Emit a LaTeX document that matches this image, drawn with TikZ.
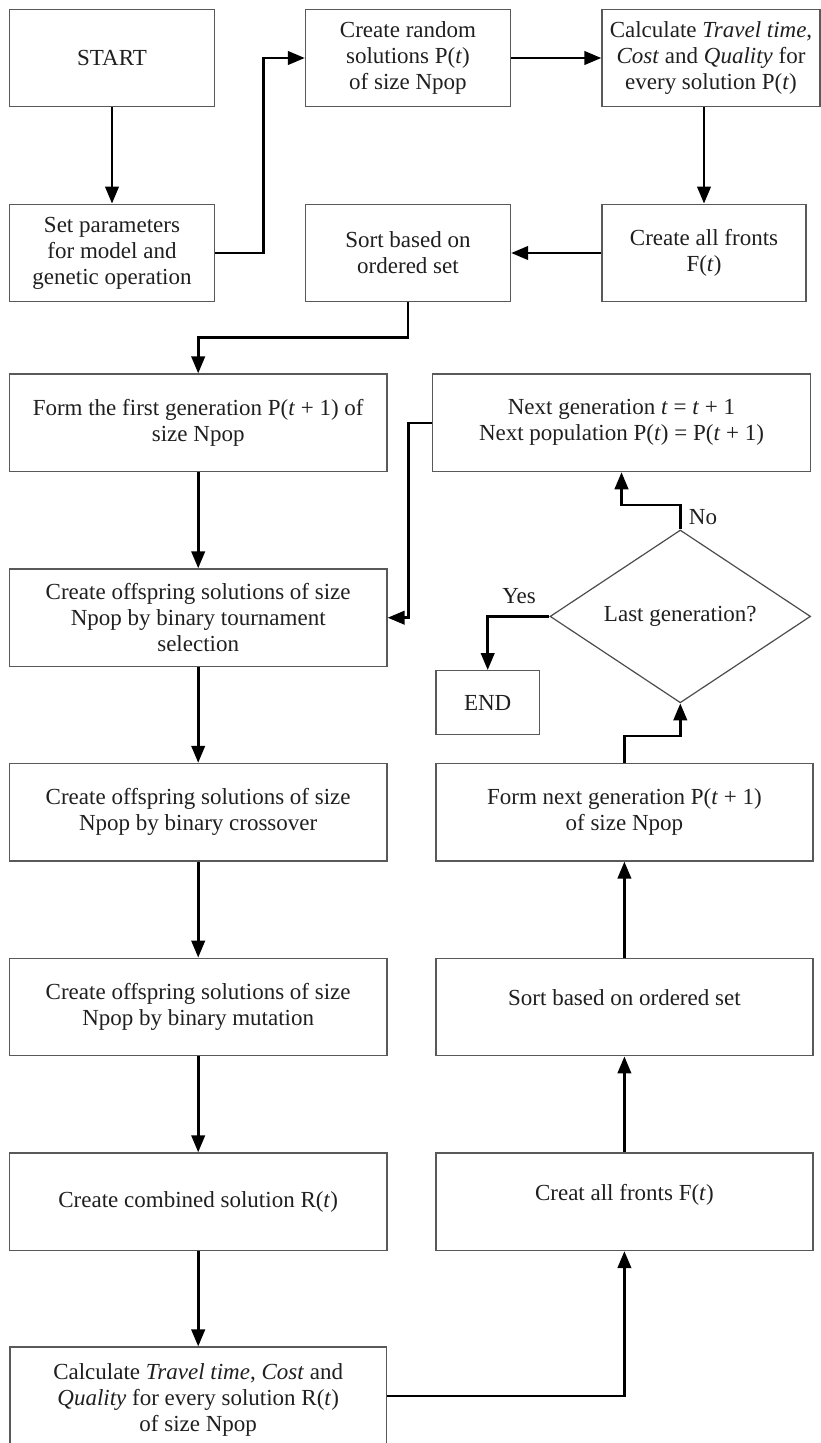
\documentclass[tikz,border=0pt]{standalone}
\usepackage{fontspec}
\setmainfont{Liberation Serif}
\usetikzlibrary{arrows.meta,shapes.geometric}
\begin{document}
\begin{tikzpicture}[x=1pt,y=-1pt,
  every node/.style={font=\fontsize{23}{26}\selectfont, text=black!88},
  box/.style={draw=black!65, line width=1.4pt, rectangle, align=center, inner sep=2pt},
  sbox/.style={box, minimum width=205pt, minimum height=97.5pt},
  wbox/.style={box, minimum width=377.5pt, minimum height=97.5pt},
  dia/.style={draw=black!70, line width=1.2pt, diamond, minimum width=260.5pt, minimum height=170.7pt, inner sep=0pt, align=center},
  arr/.style={draw=black, line width=2.6pt, -{Triangle[length=17pt,width=13.5pt]}},
  lbl/.style={inner sep=0pt}
]
\useasboundingbox (0,0) rectangle (821,1443);

% top row
\node[sbox] (start) at (112,58) {START};
\node[sbox] (set) at (112,253) {Set parameters\\for model and\\genetic operation};
\node[sbox] (crand) at (408,58) {Create random\\solutions P(\textit{t})\\of size Npop};
\node[box, minimum width=218pt, minimum height=97.5pt, inner sep=1pt] (calc) at (711,58) {Calculate \textit{Travel time},\\\textit{Cost} and \textit{Quality} for\\every solution P(\textit{t})};
\node[box, minimum width=204pt, minimum height=97.5pt] (fronts) at (704,253) {Create all fronts\\F(\textit{t})};
\node[sbox] (sort) at (408,253) {Sort based on\\ordered set};

% left column
\node[wbox] (first) at (198.2,422.8) {Form the first generation P(\textit{t} + 1) of\\size Npop};
\node[wbox] (tour) at (198.2,617.7) {Create offspring solutions of size\\Npop by binary tournament\\selection};
\node[wbox] (cross) at (198.2,812.2) {Create offspring solutions of size\\Npop by binary crossover};
\node[wbox] (mut) at (198.2,1007) {Create offspring solutions of size\\Npop by binary mutation};
\node[wbox] (comb) at (198.2,1201.7) {Create combined solution R(\textit{t})};
\node[box, minimum width=376.5pt, minimum height=105pt] (calcR) at (198.2,1399.6) {Calculate \textit{Travel time}, \textit{Cost} and\\\textit{Quality} for every solution R(\textit{t})\\of size Npop};

% right column
\node[wbox, minimum width=378pt] (next) at (621.5,422.8) {Next generation \textit{t} = \textit{t} + 1\\Next population P(\textit{t}) = P(\textit{t} + 1)};
\node[dia] (dec) at (680.3,616.4) {Last generation?};
\node[box, minimum width=103.7pt, minimum height=64pt] (endb) at (487.7,702.7) {END};
\node[wbox, minimum width=377pt] (fnext) at (624.4,812.2) {Form next generation P(\textit{t} + 1)\\of size Npop};
\node[wbox, minimum width=377pt, text depth=19pt] (sortb) at (624.4,1007) {Sort based on ordered set};
\node[wbox, minimum width=377pt, text depth=19pt] (cfr) at (624.4,1201.7) {Creat all fronts F(\textit{t})};

\node[lbl] (yes) at (519,596) {Yes};
\node[lbl] (no) at (703,517) {No};

% connectors
\draw[arr] (start) -- (set);
\draw[arr] (set.east) -- ++(48.3,0) |- (crand.west);
\draw[arr] (crand) -- (calc);
\draw[arr] (calc.south -| fronts.north) -- (fronts.north);
\draw[arr] (fronts) -- (sort);
\draw[arr] (sort.south) -- ++(0,35) -| (first.north);
\draw[arr] (first) -- (tour);
\draw[arr] (tour) -- (cross);
\draw[arr] (cross) -- (mut);
\draw[arr] (mut) -- (comb);
\draw[arr] (comb) -- (calcR);
\draw[arr] (calcR.east) ++(0,-3.6) -| (cfr.south);
\draw[arr] (cfr) -- (sortb);
\draw[arr] (sortb) -- (fnext);
\draw[arr] (fnext.north) -- ++(0,-26.6) -| (dec.south);
\draw[arr] (dec.north) -- ++(0,-24.5) -| (next.south);
\draw[arr] (dec.west) -| (endb.north);
\draw[arr] (next.west) -- ++(-23.6,0) |- (tour.east);
\end{tikzpicture}
\end{document}
